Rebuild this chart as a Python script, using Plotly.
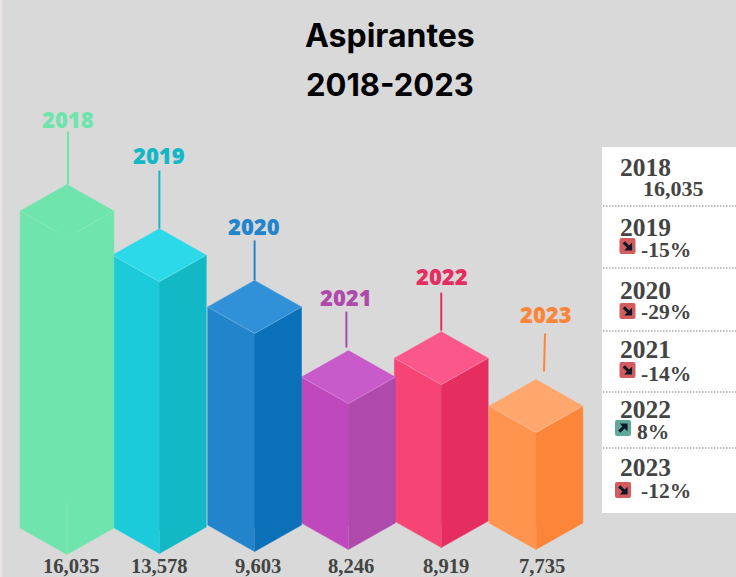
import plotly.graph_objects as go

# ---------- data ----------
years = ["2018", "2019", "2020", "2021", "2022", "2023"]
value_labels = ["16,035", "13,578", "9,603", "8,246", "8,919", "7,735"]
# heights of the pictorial columns, in value units as drawn (not strictly to scale)
drawn_values = [16090, 13800, 11070, 7410, 8270, 5940]
drawn_bases = [-50, 0, 100, 200, 300, 200]
panel_first = "16,035"
changes = [None, -15, -29, -14, 8, -12]

# ---------- style ----------
left_cols = ["#70e4ad", "#1ccbd9", "#2285cb", "#be48bc", "#f64575", "#ff944f"]
right_cols = ["#70e4ad", "#13b8c6", "#0a70b7", "#af49ac", "#e52e5f", "#fd853a"]
top_cols = ["#70e4ad", "#2bd9e8", "#3090d8", "#c95aca", "#fb578a", "#ffa76d"]
label_cols = ["#70e4ad", "#13b8c6", "#2285cb", "#af49ac", "#e52e5f", "#fd853a"]
BG = "#d9d9d9"
INK = "#444444"
SERIF = "Liberation Serif"

W, H = 736, 577
PX_PER_UNIT = 0.0197      # vertical px per value unit
BASE_PX = 527             # px row of value 0
STEP = 93.8               # px per category
FIRST_C = 67              # px centre of the first category
HALF = 0.5                # half column width in category units
DEPTH = 26.5 / PX_PER_UNIT  # isometric depth in value units
# nudges of the columns in category units
x_nudge = [0, -0.015, 0, 0, -0.01, 0]

xr = [-FIRST_C / STEP, (W - FIRST_C) / STEP]
yr = [-(H - BASE_PX) / PX_PER_UNIT, BASE_PX / PX_PER_UNIT]


def px(x):
    return x / W


def py(y):
    return 1 - y / H


fig = go.Figure()


def poly(xs, ys, color):
    fig.add_trace(go.Scatter(x=xs + xs[:1], y=ys + ys[:1], mode="lines", fill="toself",
                             fillcolor=color, line=dict(color=color, width=0.5),
                             hoverinfo="skip", showlegend=False))


def seam(xs, ys, color="rgba(255,255,255,0.2)"):
    fig.add_trace(go.Scatter(x=xs, y=ys, mode="lines", line=dict(color=color, width=1),
                             hoverinfo="skip", showlegend=False))


# drawn right to left, so each column keeps its right edge over its neighbour
for i in reversed(range(len(years))):
    v, b = drawn_values[i], drawn_bases[i]
    c = i + x_nudge[i]
    l, r = c - HALF, c + HALF
    bot, top = b, b + v
    poly([l, c, c, l], [bot, bot - DEPTH, top - DEPTH, top], left_cols[i])
    poly([c, r, r, c], [bot - DEPTH, bot, top, top - DEPTH], right_cols[i])
    poly([l, c, r, c], [top, top + DEPTH, top, top - DEPTH], top_cols[i])
    if i == 0:
        seam([l, c - 0.1, None, c + 0.1, r], [top, top - DEPTH * 0.8, None, top - DEPTH * 0.8, top],
             "rgba(255,255,255,0.12)")
        seam([c, c], [bot - DEPTH, bot - DEPTH + 2600], "rgba(255,255,255,0.16)")
    else:
        seam([l, c, r], [top, top - DEPTH, top])
        seam([c, c], [bot - DEPTH, bot - DEPTH + 1200], "rgba(255,255,255,0.12)")

# stems: offset of stem from apex (px), gap above apex (px), length (px)
stem_dx_bottom = [1, 0, 0, -2, 0, 8]
stem_dx_top = [1, 0, 0, -2, 0, 9]
stem_gap = [0, 0, 0, 3, 1, 8]
stem_len = [53, 58, 40, 36, 38, 38]
label_lift = [13, 16, 14, 15, 17, 20]
label_dx = [0, 0, -1, 0, 1, 1]
shapes = []
annotations = []
for i in range(len(years)):
    v, b = drawn_values[i], drawn_bases[i]
    c = i + x_nudge[i]
    apex = b + v + DEPTH
    y0 = apex + stem_gap[i] / PX_PER_UNIT
    y1 = y0 + stem_len[i] / PX_PER_UNIT
    x0 = c + stem_dx_bottom[i] / STEP
    x1 = c + stem_dx_top[i] / STEP
    shapes.append(dict(type="line", xref="x", yref="y", x0=x0, x1=x1, y0=y0, y1=y1,
                       line=dict(color=label_cols[i], width=2), layer="below"))
    annotations.append(dict(xref="x", yref="y", x=x1, y=y1, yshift=label_lift[i], xshift=label_dx[i],
                            text=years[i], showarrow=False, yanchor="middle", xanchor="center",
                            font=dict(family="Open Sans", size=22, weight=800, color=label_cols[i])))

# bottom value labels
label_nudge = [4, -1, 3, 3, 4, 6]
for i, t in enumerate(value_labels):
    annotations.append(dict(xref="x", yref="paper", x=i, y=py(566), xshift=label_nudge[i],
                            text=f"<b>{t}</b>", showarrow=False, yanchor="middle",
                            font=dict(family=SERIF, size=20.6, color=INK)))

# title
for t, yy, sz in zip(["Aspirantes", "2018-2023"], [35, 85], [32, 31]):
    annotations.append(dict(xref="paper", yref="paper", x=px(390), y=py(yy), text=f"<b>{t}</b>",
                            showarrow=False, yanchor="middle",
                            font=dict(family="Inter", size=sz, color="#000000")))

# left edge stripe and side panel
shapes.insert(0, dict(type="rect", xref="paper", yref="paper", x0=0, x1=px(2), y0=0, y1=1,
                      fillcolor="#ece5e5", line_width=0, layer="below"))
shapes.append(dict(type="rect", xref="paper", yref="paper", x0=px(602), x1=1, y0=py(513), y1=py(147),
                   fillcolor="#ffffff", line_width=0, layer="below"))
for yy in [206, 268, 331, 392, 448]:
    shapes.append(dict(type="line", xref="paper", yref="paper", x0=px(603), x1=1, y0=py(yy), y1=py(yy),
                       line=dict(color="#a8a8a8", width=1.4, dash="1.5px,1.5px")))

year_y = [167, 227, 290, 349, 409, 467]
chg_y = [188, 250, 312, 374, 432, 491]
chg_x = [641, 639, 639, 639, 635, 639]
icon_x = [None, 619.5, 619.5, 619.5, 615, 615]
icon_y = [None, 238, 303, 362, 420, 482]
ICON = 16
# arrow outline inside an icon, pointing to the lower right
ARROW = [(3.2, 5.4), (5.4, 3.2), (9.6, 7.4), (12.6, 4.8), (12.6, 12.6), (4.8, 12.6), (7.4, 9.6)]


def path_of(points):
    return "M " + " L ".join(f"{px(a)} {py(b)}" for a, b in points) + " Z"


for i in range(6):
    annotations.append(dict(xref="paper", yref="paper", x=px(618), y=py(year_y[i]), xanchor="left",
                            text=f"<b>{years[i]}</b>", showarrow=False, yanchor="middle",
                            font=dict(family=SERIF, size=25.5, color=INK)))
    ch = changes[i]
    txt = panel_first if ch is None else f"{ch}%"
    annotations.append(dict(xref="paper", yref="paper", x=px(chg_x[i]), y=py(chg_y[i]), xanchor="left",
                            text=f"<b>{txt}</b>", showarrow=False, yanchor="middle",
                            font=dict(family=SERIF, size=22 if ch is None else 21.5, color=INK)))
    if ch is None:
        continue
    x0, y0 = icon_x[i], icon_y[i]
    up = ch > 0
    col = "#5fa898" if up else "#d25c5e"
    x1, y1 = x0 + ICON, y0 + ICON
    rad = 2
    path = (f"M {px(x0 + rad)} {py(y0)} L {px(x1 - rad)} {py(y0)} Q {px(x1)} {py(y0)} {px(x1)} {py(y0 + rad)} "
            f"L {px(x1)} {py(y1 - rad)} Q {px(x1)} {py(y1)} {px(x1 - rad)} {py(y1)} "
            f"L {px(x0 + rad)} {py(y1)} Q {px(x0)} {py(y1)} {px(x0)} {py(y1 - rad)} "
            f"L {px(x0)} {py(y0 + rad)} Q {px(x0)} {py(y0)} {px(x0 + rad)} {py(y0)} Z")
    shapes.append(dict(type="path", xref="paper", yref="paper", path=path, fillcolor=col, line_width=0))
    pts = [(x0 + a, y0 + (ICON - b if up else b)) for a, b in ARROW]
    shapes.append(dict(type="path", xref="paper", yref="paper", path=path_of(pts),
                       fillcolor="#101828", line_width=0))

fig.update_layout(width=W, height=H, autosize=False,
                  margin=dict(l=0, r=0, t=0, b=0, pad=0),
                  paper_bgcolor=BG, plot_bgcolor="rgba(0,0,0,0)",
                  shapes=shapes, annotations=annotations, showlegend=False)
fig.update_xaxes(range=xr, visible=False, fixedrange=True)
fig.update_yaxes(range=yr, visible=False, fixedrange=True)
fig.write_html("out.html", config={"displayModeBar": False},
               post_script="document.body.style.margin='0';document.body.style.overflow='hidden';")
